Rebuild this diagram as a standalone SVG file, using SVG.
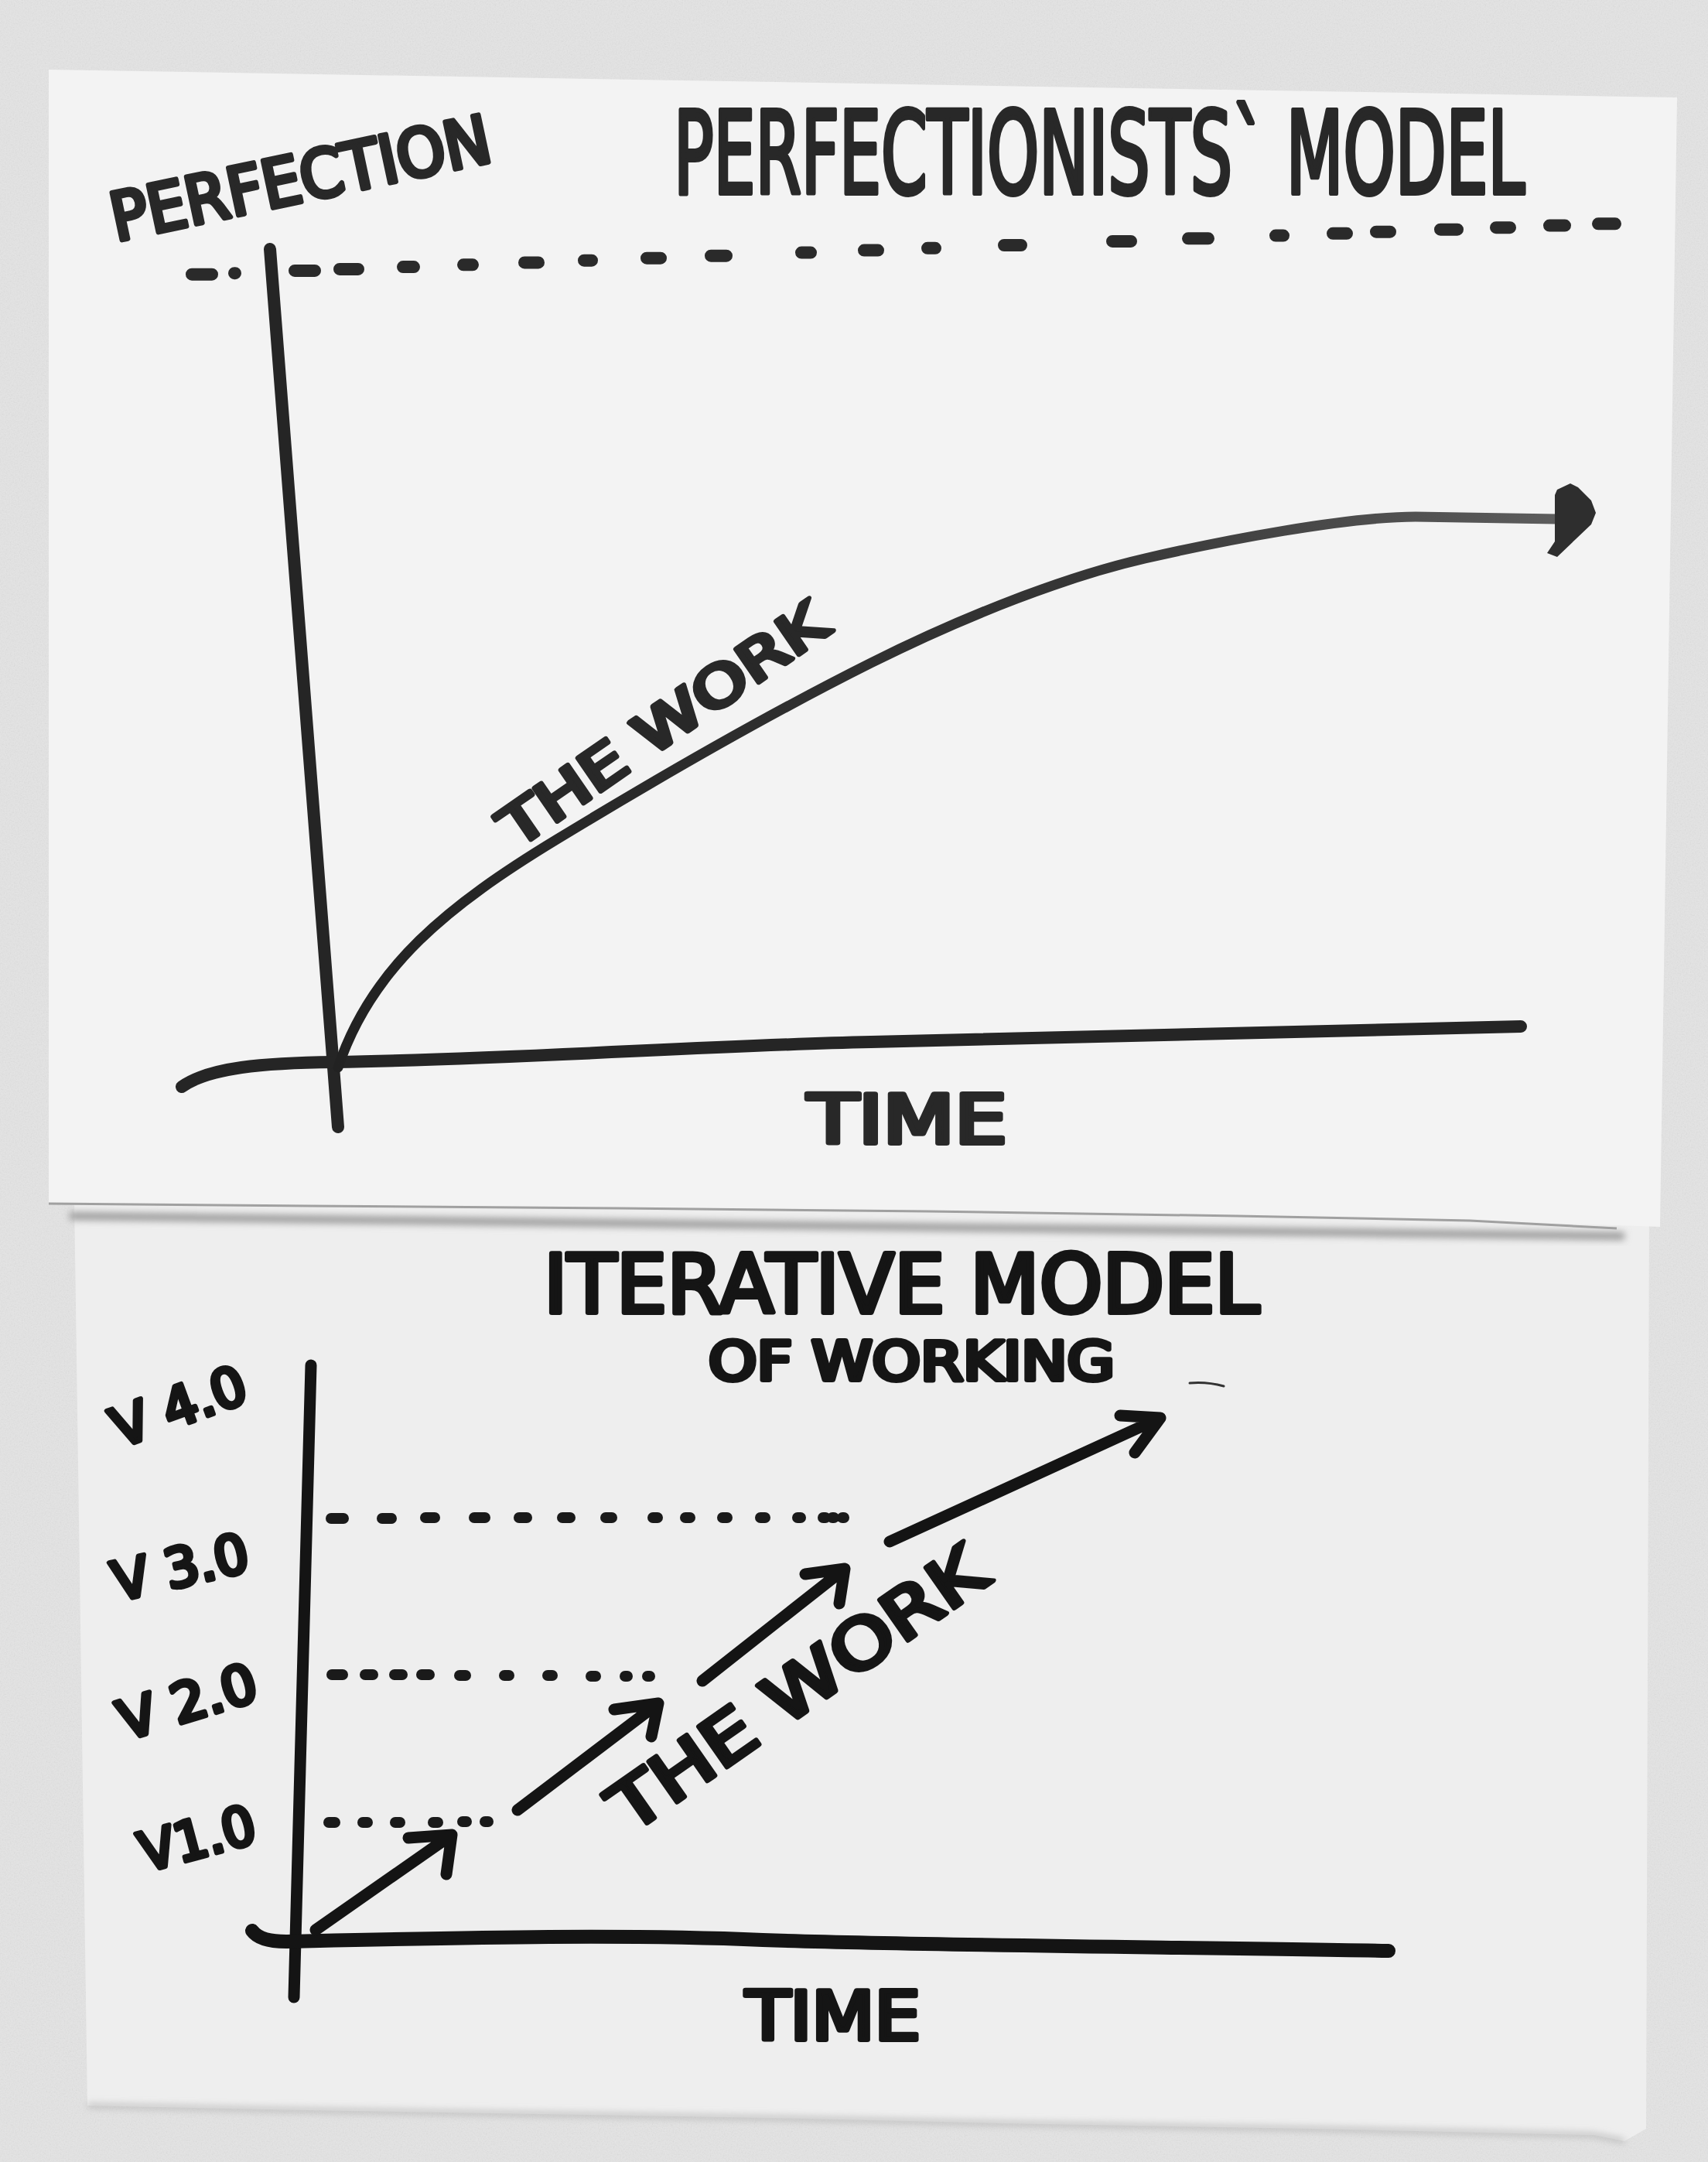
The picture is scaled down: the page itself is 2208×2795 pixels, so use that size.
<svg xmlns="http://www.w3.org/2000/svg" width="2208" height="2795" viewBox="0 0 2208 2795">
  <defs>
    <filter id="grain" x="0" y="0" width="100%" height="100%">
      <feTurbulence type="fractalNoise" baseFrequency="0.6" numOctaves="2" seed="4"/>
      <feColorMatrix type="saturate" values="0"/>
      <feComponentTransfer>
        <feFuncA type="table" tableValues="0 0.18"/>
      </feComponentTransfer>
    </filter>
    <filter id="soft" x="-5%" y="-50%" width="110%" height="200%">
      <feGaussianBlur stdDeviation="5"/>
    </filter>
    <linearGradient id="curveInk" gradientUnits="userSpaceOnUse" x1="437" y1="0" x2="2063" y2="0">
      <stop offset="0" stop-color="#222"/>
      <stop offset="0.6" stop-color="#363636"/>
      <stop offset="1" stop-color="#606060"/>
    </linearGradient>
    <style>
      .inkA { fill: none; stroke: #252525; stroke-linecap: round; stroke-linejoin: round; }
      .inkB { fill: none; stroke: #141414; stroke-linecap: round; stroke-linejoin: round; }
      .dotA { fill: none; stroke: #2a2a2a; stroke-width: 16; stroke-linecap: round; }
      .dotB { fill: none; stroke: #1a1a1a; stroke-width: 14; stroke-linecap: round; }
      .hand { font-family: "DejaVu Sans Condensed", "Liberation Sans Narrow", "Liberation Sans", sans-serif; font-weight: 400; stroke-linejoin: round; stroke-linecap: round; }
      .tA { fill: #282828; stroke: #282828; stroke-width: 6; }
      .tB { fill: #151515; stroke: #151515; stroke-width: 6; }
    </style>
  </defs>

  <!-- wall -->
  <rect x="0" y="0" width="2208" height="2795" fill="#e4e4e4"/>
  <rect x="0" y="0" width="2208" height="2795" filter="url(#grain)"/>

  <!-- bottom paper -->
  <g id="paper-bottom">
    <path d="M96,1550 L2132,1560 L2128,2752 L2100,2768 L2060,2760 L1700,2752 L1300,2745 L1000,2738 L700,2733 L400,2728 L113,2722 Z" fill="#eeeeee"/>
    <path d="M113,2722 L400,2728 L700,2733 L1000,2738 L1300,2745 L1700,2752 L2060,2760 L2100,2768" fill="none" stroke="#a8a8a8" stroke-width="4" filter="url(#soft)"/>
  </g>

  <!-- top paper -->
  <g id="paper-top">
    <path d="M90,1572 L2100,1598" fill="none" stroke="#9a9a9a" stroke-width="10" filter="url(#soft)"/>
    <path d="M63,90 L2168,126 L2146,1586 L2090,1584 L1900,1578 L1600,1572 L1200,1566 L800,1562 L400,1559 L63,1556 Z" fill="#f3f3f3"/>
    <path d="M63,1556 L400,1559 L800,1562 L1200,1566 L1600,1572 L1900,1578 L2090,1588" fill="none" stroke="#a0a0a0" stroke-width="3"/>
  </g>

  <!-- ===== Perfectionists' model ===== -->
  <g id="top-title" transform="translate(871 250) scale(0.64 1)">
    <text class="hand tA" x="0" y="0" font-size="148" textLength="1719" lengthAdjust="spacingAndGlyphs">PERFECTIONISTS` MODEL</text>
  </g>
  <g id="top-ylabel">
    <text class="hand tA" x="150" y="312" font-size="86" textLength="500" lengthAdjust="spacingAndGlyphs" transform="rotate(-12 150 312)">PERFECTION</text>
  </g>
  <g id="top-xlabel">
    <text class="hand tA" x="1044" y="1478" font-size="88" textLength="258" lengthAdjust="spacingAndGlyphs">TIME</text>
  </g>
  <g id="top-curve-label">
    <text class="hand tA" x="668" y="1098" font-size="72" textLength="495" lengthAdjust="spacingAndGlyphs" transform="rotate(-34.6 668 1098)">THE WORK</text>
  </g>

  <g id="top-perfection-line">
    <path class="dotA" d="M248,354.7 h26 M303,353.2 h1 M381,349.9 h26 M439,347.9 h24 M521,345.1 h14 M599,342.3 h12 M678,339.4 h18 M755,336.7 h10 M836,333.7 h18 M919,330.7 h20 M1036,326.6 h12 M1117,323.6 h18 M1199,320.8 h10 M1298,317 h22 M1438,311.9 h24 M1536,308.3 h26 M1649,304.6 h10 M1723,301.8 h18 M1779,299.7 h18 M1862,296.7 h22 M1934,294.2 h18 M2003,291.6 h20 M2066,289.3 h22"/>
  </g>

  <g id="top-axes">
    <path class="inkA" stroke-width="16" d="M349,322 L437,1457"/>
    <path class="inkA" stroke-width="16" d="M235,1405 C270,1380 340,1374 433,1373 C700,1368 900,1352 1126,1347 C1500,1338 1800,1330 1966,1327"/>
  </g>

  <g id="top-connectors">
    <path d="M437,1380 C480,1250 580,1170 720,1085 S1000,920 1126,857 S1380,745 1480,722 S1740,668 1830,668 L2012,671" fill="none" stroke="url(#curveInk)" stroke-width="13" stroke-linecap="round"/>
    <path d="M2010,640 L2013,633 L2030,625 L2040,630 L2057,647 L2063,663 L2057,678 L2013,720 L2000,715 L2010,700 Z" fill="#2e2e2e"/>
  </g>

  <!-- ===== Iterative model ===== -->
  <g id="bottom-title">
    <text class="hand tB" x="703" y="1697" font-size="106" textLength="925" lengthAdjust="spacingAndGlyphs">ITERATIVE MODEL</text>
    <text class="hand tB" x="916" y="1784" font-size="70" textLength="525" lengthAdjust="spacingAndGlyphs">OF WORKING</text>
  </g>

  <g id="bottom-labels">
    <text class="hand tB" x="155" y="1872" font-size="70" textLength="180" lengthAdjust="spacingAndGlyphs" transform="rotate(-20 155 1872)">V 4.0</text>
    <text class="hand tB" x="152" y="2070" font-size="70" textLength="178" lengthAdjust="spacingAndGlyphs" transform="rotate(-13 152 2070)">V 3.0</text>
    <text class="hand tB" x="162" y="2250" font-size="70" textLength="183" lengthAdjust="spacingAndGlyphs" transform="rotate(-17 162 2250)">V 2.0</text>
    <text class="hand tB" x="188" y="2420" font-size="70" textLength="152" lengthAdjust="spacingAndGlyphs" transform="rotate(-15 188 2420)">V1.0</text>
  </g>

  <g id="bottom-xlabel">
    <text class="hand tB" x="964" y="2637" font-size="88" textLength="226" lengthAdjust="spacingAndGlyphs">TIME</text>
  </g>

  <g id="bottom-work-label">
    <text class="hand tB" x="815" y="2372" font-size="88" textLength="570" lengthAdjust="spacingAndGlyphs" transform="rotate(-35 815 2372)">THE WORK</text>
  </g>

  <g id="bottom-version-lines">
    <path class="dotB" d="M428,1963 h16 M494,1963 h12 M550,1962 h12 M613,1962 h14 M671,1962 h10 M727,1962 h10 M783,1962 h8 M844,1962 h6 M886,1962 h6 M934,1962 h6 M983,1962 h6 M1031,1962 h4 M1064,1962 h3 M1076,1962 h2 M1089,1962 h2"/>
    <path class="dotB" d="M429,2165 h14 M472,2165 h10 M510,2165 h10 M545,2165 h10 M594,2166 h8 M652,2166 h6 M708,2166 h6 M764,2167 h6 M808,2167 h3 M837,2167 h3"/>
    <path class="dotB" d="M425,2356 h8 M469,2356 h6 M511,2356 h6 M560,2356 h6 M598,2355 h5 M627,2355 h4"/>
  </g>

  <g id="bottom-axes">
    <path class="inkB" stroke-width="15" d="M402,1765 L380,2582"/>
    <path class="inkB" stroke-width="18" d="M326,2496 Q336,2510 370,2510 C600,2505 800,2500 986,2508 C1200,2515 1500,2517 1795,2522"/>
  </g>

  <g id="bottom-connectors">
    <path class="inkB" stroke-width="15" d="M408,2495 L584,2372 M528,2376 L584,2372 L577,2423"/>
    <path class="inkB" stroke-width="15" d="M669,2340 L851,2202 M794,2210 L851,2202 L842,2245"/>
    <path class="inkB" stroke-width="15" d="M908,2173 L1092,2028 M1041,2035 L1092,2028 L1085,2073"/>
    <path class="inkB" stroke-width="15" d="M1150,1993 L1500,1833 M1448,1830 L1500,1833 L1467,1878"/>
  </g>

  <g id="stray-marks">
    <path d="M1538,1788 Q1560,1786 1582,1792" fill="none" stroke="#333" stroke-width="3" stroke-linecap="round"/>
  </g>
</svg>
